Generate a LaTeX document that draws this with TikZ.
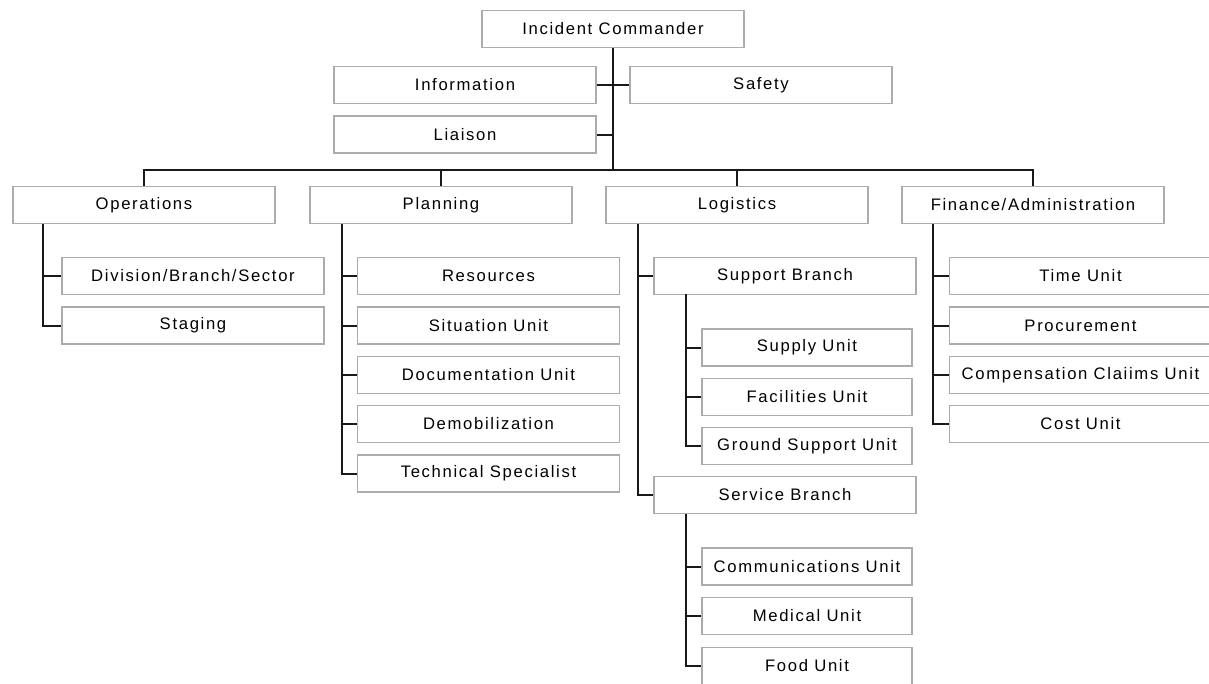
\documentclass[tikz,border=0pt]{standalone}
\usepackage{fontspec}
\setmainfont{Liberation Sans}[LetterSpace=10]
\usepackage{tikz}

\begin{document}
\begin{tikzpicture}[x=0.75pt,y=-0.75pt,
  box/.style={draw=gray!65,line width=1.1pt,fill=white,text=black,minimum width=196.5pt,minimum height=28pt,inner sep=0pt,font=\fontsize{12.5}{14}\selectfont},
  unitbox/.style={box,minimum width=157.5pt},
  link/.style={draw=black!90,line width=1.5pt}]
  \useasboundingbox (0,0) rectangle (1209,683);
  \node[box] (ic) at (613,29) {Incident Commander};
  \node[box] (info) at (465,85) {Information};
  \node[box] (safety) at (761,85) {Safety};
  \node[box] (liaison) at (465,134.5) {Liaison};
  \node[box] (ops) at (144,205) {Operations};
  \node[box] (plan) at (441,205) {Planning};
  \node[box] (log) at (737,205) {Logistics};
  \node[box] (fin) at (1033,205) {Finance/Administration};
  \node[box] (div) at (193,276) {Division/Branch/Sector};
  \node[box] (stag) at (193,325.5) {Staging};
  \node[box] (res) at (488.5,276) {Resources};
  \node[box] (sit) at (488.5,325.5) {Situation Unit};
  \node[box] (doc) at (488.5,375) {Documentation Unit};
  \node[box] (demob) at (488.5,424) {Demobilization};
  \node[box] (tech) at (488.5,473.5) {Technical Specialist};
  \node[box] (supbr) at (785,276) {Support Branch};
  \node[unitbox] (supply) at (807,347.5) {Supply Unit};
  \node[unitbox] (fac) at (807,397) {Facilities Unit};
  \node[unitbox] (ground) at (807,446) {Ground Support Unit};
  \node[box] (servbr) at (785,495) {Service Branch};
  \node[unitbox] (comm) at (807,566.5) {Communications Unit};
  \node[unitbox] (med) at (807,616) {Medical Unit};
  \node[unitbox] (food) at (807,666) {Food Unit};
  \node[box] (time) at (1080.5,276) {Time Unit};
  \node[box] (proc) at (1080.5,325.5) {Procurement};
  \node[box] (comp) at (1080.5,375) {Compensation Claiims Unit};
  \node[box] (cost) at (1080.5,424) {Cost Unit};
  \coordinate (bus) at (613,170);
  \coordinate (opsv) at (43,224);
  \coordinate (planv) at (342,224);
  \coordinate (logv) at (638,224);
  \coordinate (supv) at (686,294);
  \coordinate (servv) at (686,514);
  \coordinate (finv) at (933,224);
  \draw[link] (ic.south) -- (bus);
  \draw[link] (info.east) -- (safety.west);
  \draw[link] (liaison.east) -- (liaison.east -| bus);
  \draw[link] (ops.north) |- (bus) -| (fin.north);
  \draw[link] (plan.north) -- (plan.north |- bus);
  \draw[link] (log.north) -- (log.north |- bus);
  \foreach \n in {div,stag} \draw[link] (opsv) |- (\n.west);
  \foreach \n in {res,sit,doc,demob,tech} \draw[link] (planv) |- (\n.west);
  \foreach \n in {supbr,servbr} \draw[link] (logv) |- (\n.west);
  \foreach \n in {supply,fac,ground} \draw[link] (supv) |- (\n.west);
  \foreach \n in {comm,med,food} \draw[link] (servv) |- (\n.west);
  \foreach \n in {time,proc,comp,cost} \draw[link] (finv) |- (\n.west);
\end{tikzpicture}
\end{document}
